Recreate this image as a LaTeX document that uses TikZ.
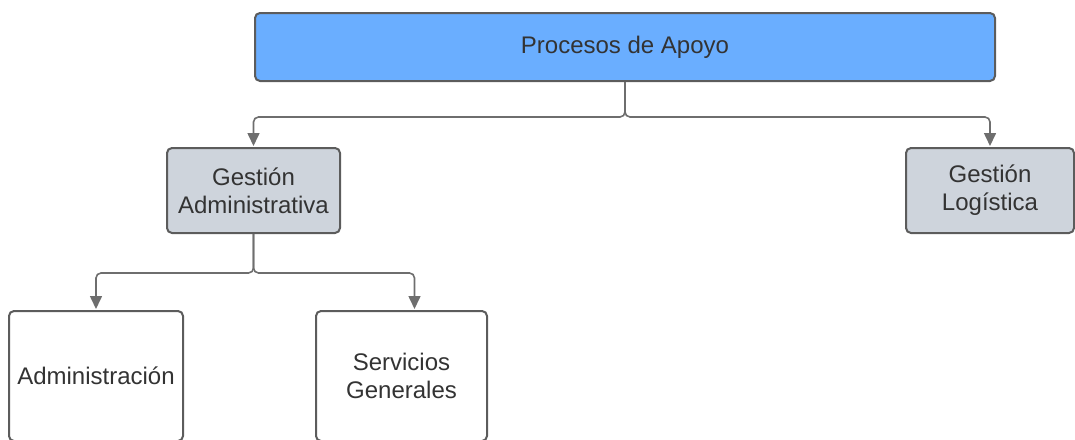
\documentclass[tikz,border=0pt]{standalone}
\usepackage{fontspec}
\setmainfont{Liberation Sans}
\usetikzlibrary{arrows.meta}
\definecolor{apoyoblue}{HTML}{6AAEFF}
\definecolor{gestgray}{HTML}{CED4DC}
\definecolor{edgegray}{HTML}{5C5C5C}
\definecolor{linkgray}{HTML}{6E6E6E}
\definecolor{textgray}{HTML}{333333}

\begin{document}
\begin{tikzpicture}[x=1pt,y=-1pt,
  box/.style={draw=edgegray,line width=2pt,rounded corners=5pt,inner sep=0pt,align=center,
    text=textgray,font=\fontsize{24}{28}\selectfont},
  topbox/.style={box,fill=apoyoblue,minimum width=740pt,minimum height=68pt},
  gestbox/.style={box,fill=gestgray,minimum height=85pt},
  leafbox/.style={box,fill=white,minimum height=130pt},
  link/.style={draw=linkgray,line width=1.6pt,rounded corners=5pt,
    -{Triangle[length=13pt,width=12pt]},shorten >=1pt}]
  \useasboundingbox (0,0) rectangle (1075,439);
  \node[topbox] (apoyo) at (625,47){Procesos de Apoyo};
  \node[gestbox,minimum width=173pt] (gadm) at (253.5,190.5){Gestión\\Administrativa};
  \node[gestbox,minimum width=168pt] (glog) at (990,190.5){Gestión\\Logística};
  \node[leafbox,minimum width=174pt] (adm) at (96,376){Administración};
  \node[leafbox,minimum width=171pt] (serv) at (401.5,376){Servicios\\Generales};
  % enlaces
  \draw[link] (apoyo.south) -- ++(0,35) -| (gadm.north);
  \draw[link] (apoyo.south) -- ++(0,35) -| (glog.north);
  \draw[link] (gadm.south) -- ++(0,39) -| (adm.north);
  \draw[link] (gadm.south) -- ++(0,39) -| ([xshift=13pt]serv.north);
\end{tikzpicture}
\end{document}
